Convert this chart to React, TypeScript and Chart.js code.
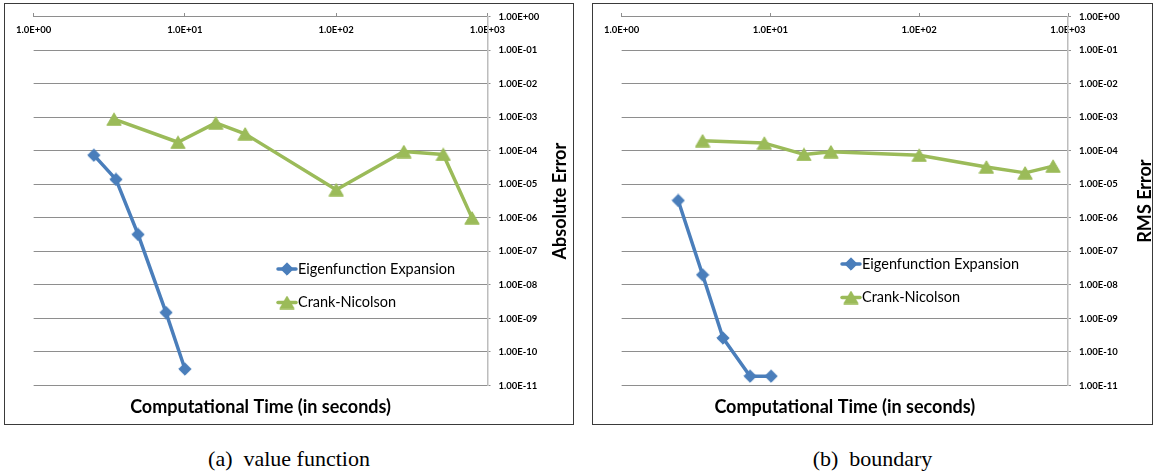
import React, { useEffect, useRef } from 'react';
import { Chart, registerables } from 'chart.js';

Chart.register(...registerables);

// Axis ticks and their printed labels
const X_TICKS = [1, 10, 100, 1000];
const X_TICK_LABELS = ['1.0E+00', '1.0E+01', '1.0E+02', '1.0E+03'];
const Y_TICKS = [1, 1e-1, 1e-2, 1e-3, 1e-4, 1e-5, 1e-6, 1e-7, 1e-8, 1e-9, 1e-10, 1e-11];
const Y_TICK_LABELS = [
  '1.00E+00', '1.00E-01', '1.00E-02', '1.00E-03', '1.00E-04', '1.00E-05',
  '1.00E-06', '1.00E-07', '1.00E-08', '1.00E-09', '1.00E-10', '1.00E-11',
];

const SERIES_NAMES = ['Eigenfunction Expansion', 'Crank-Nicolson'];
const X_TITLE = 'Computational Time (in seconds)';

// (a) value function: absolute error vs. computational time
const VALUE_EIGEN_TIME = [2.5, 3.5, 4.9, 7.5, 10];
const VALUE_EIGEN_ERR = [7.4e-5, 1.4e-5, 3.2e-7, 1.5e-9, 3.1e-11];
const VALUE_CN_TIME = [3.4, 9.0, 16, 25, 100, 280, 510, 790];
const VALUE_CN_ERR = [8.8e-4, 1.8e-4, 6.8e-4, 3.2e-4, 6.9e-6, 9.5e-5, 7.8e-5, 1.0e-6];

// (b) boundary: RMS error vs. computational time
const BOUNDARY_EIGEN_TIME = [2.4, 3.5, 4.8, 7.3, 10.1];
const BOUNDARY_EIGEN_ERR = [3.3e-6, 2.0e-8, 2.6e-10, 1.9e-11, 1.9e-11];
const BOUNDARY_CN_TIME = [3.5, 9.1, 16.8, 25.5, 100, 283, 515, 794];
const BOUNDARY_CN_ERR = [2.0e-4, 1.7e-4, 7.8e-5, 9.4e-5, 7.4e-5, 3.3e-5, 2.2e-5, 3.5e-5];

const BLUE = '#4a7ebb';
const GREEN = '#9bbb59';
const GRID = '#8e8e8e';
const AXIS = '#bdbdbd';
const SANS = 'Lato, "Open Sans", sans-serif';
const SERIF = '"Liberation Serif", "DejaVu Serif", serif';
const Y_AXIS_W = 60;

type Box = { left: number; top: number; width: number; height: number };
type Area = { left: number; right: number; top: number; bottom: number };

type PanelProps = {
  box: Box;
  area: Area;
  eigenTime: number[];
  eigenErr: number[];
  cnTime: number[];
  cnErr: number[];
  yTitle: string;
  yTitleX: number;
  xTitleY: number;
  legendX: number;
  legendY: number;
  caption: string;
};

function makeMarker(kind: 'diamond' | 'triangle', color: string): HTMLCanvasElement {
  const c = document.createElement('canvas');
  if (kind === 'diamond') {
    c.width = 14;
    c.height = 14;
  } else {
    c.width = 16;
    c.height = 14;
  }
  const ctx = c.getContext('2d')!;
  ctx.fillStyle = color;
  ctx.strokeStyle = color;
  ctx.lineJoin = 'round';
  ctx.lineWidth = 1;
  ctx.beginPath();
  if (kind === 'diamond') {
    ctx.moveTo(7, 0.8);
    ctx.lineTo(13.2, 7);
    ctx.lineTo(7, 13.2);
    ctx.lineTo(0.8, 7);
  } else {
    ctx.moveTo(8, 0.8);
    ctx.lineTo(15.2, 13.2);
    ctx.lineTo(0.8, 13.2);
  }
  ctx.closePath();
  ctx.fill();
  ctx.stroke();
  return c;
}

function Panel(p: PanelProps) {
  const ref = useRef<HTMLCanvasElement>(null);

  useEffect(() => {
    const canvas = ref.current;
    if (!canvas) return;
    const diamond = makeMarker('diamond', BLUE);
    const triangle = makeMarker('triangle', GREEN);
    const markers = [diamond, triangle];
    const toPoints = (t: number[], e: number[]) => t.map((x, i) => ({ x, y: e[i] }));

    const titles = {
      id: 'panelTitles',
      afterDraw(chart: any) {
        const { ctx, chartArea } = chart;
        ctx.save();
        ctx.fillStyle = '#000';
        ctx.font = `bold 18px ${SANS}`;
        ctx.textAlign = 'center';
        ctx.textBaseline = 'middle';
        ctx.fillText(X_TITLE, (chartArea.left + chartArea.right) / 2, p.xTitleY);
        ctx.translate(p.yTitleX, (chartArea.top + chartArea.bottom) / 2);
        ctx.rotate(-Math.PI / 2);
        ctx.fillText(p.yTitle, 0, 0);
        ctx.restore();
      },
    };

    const inlineLegend = {
      id: 'inlineLegend',
      afterDraw(chart: any) {
        const { ctx } = chart;
        ctx.save();
        chart.data.datasets.forEach((ds: any, i: number) => {
          const cx = p.legendX;
          const cy = p.legendY + i * 33.5;
          ctx.strokeStyle = ds.borderColor;
          ctx.lineWidth = 3.5;
          ctx.lineCap = 'round';
          ctx.beginPath();
          ctx.moveTo(cx - 9, cy);
          ctx.lineTo(cx + 9, cy);
          ctx.stroke();
          const m = markers[i];
          ctx.drawImage(m, cx - m.width / 2, cy - m.height / 2);
          ctx.fillStyle = '#000';
          ctx.font = `14.5px ${SANS}`;
          ctx.textAlign = 'left';
          ctx.textBaseline = 'middle';
          ctx.fillText(ds.label, cx + 11, cy);
        });
        ctx.restore();
      },
    };

    const chart = new Chart(canvas, {
      type: 'line',
      data: {
        datasets: [
          {
            label: SERIES_NAMES[0],
            data: toPoints(p.eigenTime, p.eigenErr),
            borderColor: BLUE,
            backgroundColor: BLUE,
            borderWidth: 3.5,
            borderJoinStyle: 'round',
            borderCapStyle: 'round',
            pointStyle: diamond,
            pointRadius: 6,
            tension: 0,
            clip: false,
          },
          {
            label: SERIES_NAMES[1],
            data: toPoints(p.cnTime, p.cnErr),
            borderColor: GREEN,
            backgroundColor: GREEN,
            borderWidth: 3.5,
            borderJoinStyle: 'round',
            borderCapStyle: 'round',
            pointStyle: triangle,
            pointRadius: 6,
            tension: 0,
            clip: false,
          },
        ],
      } as any,
      options: {
        animation: false,
        responsive: false,
        devicePixelRatio: 1,
        events: [],
        layout: {
          padding: {
            left: p.area.left,
            top: p.area.top,
            right: p.box.width - p.area.right - Y_AXIS_W,
            bottom: p.box.height - p.area.bottom,
          },
        },
        plugins: {
          legend: { display: false },
          tooltip: { enabled: false },
        },
        scales: {
          x: {
            type: 'logarithmic',
            min: 1,
            max: 1000,
            position: { y: 1 } as any,
            afterBuildTicks: (s: any) => {
              s.ticks = X_TICKS.map((v) => ({ value: v }));
            },
            ticks: {
              autoSkip: false,
              maxRotation: 0,
              minRotation: 0,
              padding: 12,
              color: '#000',
              font: { family: SANS, size: 9.5, weight: 'bold' },
              callback: (v: any) => X_TICK_LABELS[X_TICKS.indexOf(Number(v))],
            },
            grid: { drawOnChartArea: false, tickLength: -4, color: GRID },
            border: { color: GRID, width: 1 },
          },
          y: {
            type: 'logarithmic',
            position: 'right',
            min: 1e-11,
            max: 1,
            afterBuildTicks: (s: any) => {
              s.ticks = Y_TICKS.map((v) => ({ value: v }));
            },
            afterFit: (s: any) => {
              s.width = Y_AXIS_W;
            },
            ticks: {
              autoSkip: false,
              padding: 8,
              color: '#000',
              font: { family: SANS, size: 9.5, weight: 'bold' },
              callback: (v: any) => Y_TICK_LABELS[Y_TICKS.indexOf(Number(v))],
            },
            grid: { color: GRID, tickLength: 3 },
            border: { color: AXIS, width: 1.5 },
          },
        },
      } as any,
      plugins: [titles, inlineLegend],
    });
    return () => chart.destroy();
  }, []);

  return (
    <>
      <div
        style={{
          position: 'absolute',
          left: p.box.left,
          top: p.box.top,
          width: p.box.width,
          height: p.box.height,
          boxSizing: 'border-box',
          border: '1px solid #3a3a3a',
        }}
      >
        <canvas
          ref={ref}
          width={p.box.width}
          height={p.box.height}
          style={{ position: 'absolute', left: -1, top: -1, width: p.box.width, height: p.box.height }}
        />
      </div>
      <div
        style={{
          position: 'absolute',
          left: p.box.left,
          width: p.box.width,
          top: 446,
          textAlign: 'center',
          fontFamily: SERIF,
          fontSize: 22,
          lineHeight: '26px',
          color: '#000',
          whiteSpace: 'pre',
        }}
      >
        {p.caption}
      </div>
    </>
  );
}

export default function App() {
  return (
    <div
      style={{
        position: 'absolute',
        left: 0,
        top: 0,
        width: 1158,
        height: 475,
        background: '#fff',
        overflow: 'hidden',
      }}
    >
      <Panel
        box={{ left: 4, top: 3, width: 570, height: 422 }}
        area={{ left: 25, right: 483.5, top: 13.5, bottom: 382.5 }}
        eigenTime={VALUE_EIGEN_TIME}
        eigenErr={VALUE_EIGEN_ERR}
        cnTime={VALUE_CN_TIME}
        cnErr={VALUE_CN_ERR}
        yTitle="Absolute Error"
        yTitleX={556}
        xTitleY={404}
        legendX={283}
        legendY={266}
        caption={'(a)  value function'}
      />
      <Panel
        box={{ left: 592, top: 3, width: 561, height: 422 }}
        area={{ left: 22, right: 476, top: 13.5, bottom: 382.5 }}
        eigenTime={BOUNDARY_EIGEN_TIME}
        eigenErr={BOUNDARY_EIGEN_ERR}
        cnTime={BOUNDARY_CN_TIME}
        cnErr={BOUNDARY_CN_ERR}
        yTitle="RMS Error"
        yTitleX={553}
        xTitleY={404}
        legendX={259}
        legendY={261}
        caption={'(b)  boundary'}
      />
    </div>
  );
}
